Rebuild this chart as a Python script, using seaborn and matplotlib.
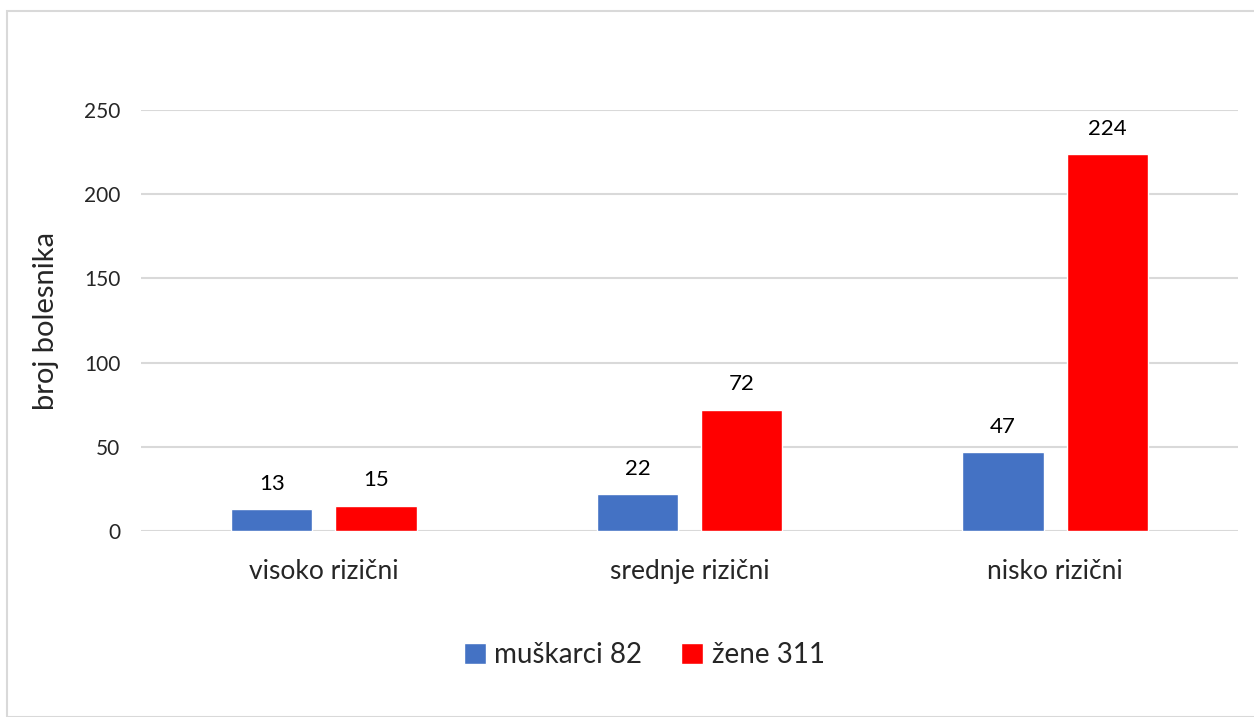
import pandas as pd
import matplotlib.pyplot as plt
import seaborn as sns
from matplotlib.patches import Rectangle

# data
categories = ['visoko rizični', 'srednje rizični', 'nisko rizični']
groups = ['muškarci 82', 'žene 311']
muskarci = [13, 22, 47]
zene = [15, 72, 224]
colors = ['#4472C4', '#FF0000']
yticks = [0, 50, 100, 150, 200, 250]

df = pd.DataFrame({
    'kategorija': categories * 2,
    'grupa': [groups[0]] * 3 + [groups[1]] * 3,
    'broj': muskarci + zene,
})

sns.set_style('white')
plt.rcParams['font.family'] = ['Lato', 'DejaVu Sans']

fig = plt.figure(figsize=(12.54, 7.17), dpi=100)
ax = fig.add_axes([141 / 1254, 1 - 531 / 717, (1238 - 141) / 1254, (531 - 110) / 717])

sns.barplot(data=df, x='kategorija', y='broj', hue='grupa', order=categories,
            hue_order=groups, palette=colors, width=0.57, gap=0.22,
            saturation=1, ax=ax, legend=True)

for cont in ax.containers:
    ax.bar_label(cont, padding=11, fontsize=16, color='#000000')

ax.set_ylim(0, 250)
ax.set_xlim(-0.5, 2.5)
ax.set_yticks(yticks)
ax.tick_params(axis='y', labelsize=15, length=0, pad=15)
ax.tick_params(axis='x', labelsize=19, length=0, pad=20)
ax.set_xlabel('')
ax.set_ylabel('broj bolesnika', fontsize=21, labelpad=18)
ax.grid(axis='y', color='#D9D9D9', linewidth=1.5)
ax.set_axisbelow(True)
for s in ax.spines.values():
    s.set_visible(False)

leg = ax.get_legend()
handles = leg.legend_handles
leg.remove()
fig.legend(handles=handles, labels=groups, loc='center',
           bbox_to_anchor=(644 / 1254, 1 - 655 / 717), ncol=2, frameon=False,
           fontsize=20, handlelength=0.8, handleheight=0.8, handletextpad=0.3,
           columnspacing=1.4)

# chart border
fig.patches.append(Rectangle((7 / 1254, 0), 1.2, 1 - 11 / 717, transform=fig.transFigure,
                             fill=False, edgecolor='#D9D9D9', linewidth=1.5))

fig.savefig('out.png', dpi=100)
